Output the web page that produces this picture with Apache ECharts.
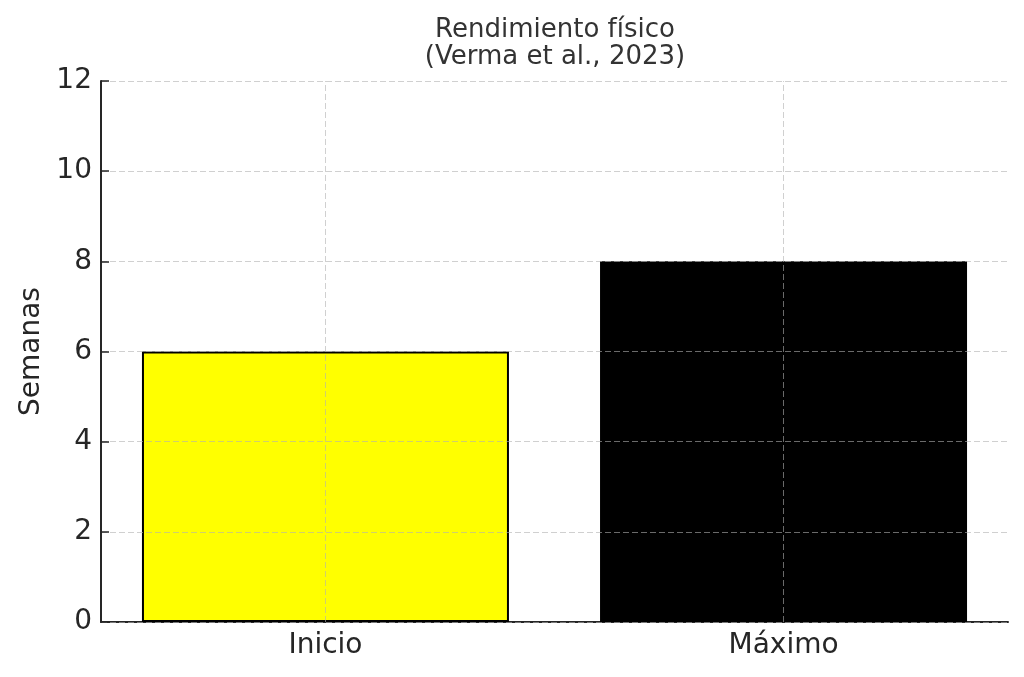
<!DOCTYPE html>
<html>
<head>
<meta charset="utf-8">
<script src="https://cdn.jsdelivr.net/npm/echarts@6/dist/echarts.min.js"></script>
<style>
  html, body { margin: 0; padding: 0; background: #fff; }
  #chart { width: 1024px; height: 677px; }
</style>
</head>
<body>
<div id="chart"></div>
<script>
var categories = ['Inicio', 'Máximo'];
var semanas = [6, 8];
var barColors = ['#ffff00', '#000000'];
var yTicks = { min: 0, max: 12, interval: 2 };
// posiciones de las barras (0, 1) con margen estilo matplotlib
var xRange = { min: -0.49, max: 1.49 };
var xPos = [0, 1];

var chart = echarts.init(document.getElementById('chart'));

var gridDash = {
    color: 'rgba(176,176,176,0.6)',
    width: 1,
    type: [6, 3]
};

chart.setOption({
    animation: false,
    textStyle: { fontFamily: 'DejaVu Sans' },
    title: {
        text: 'Rendimiento físico\n(Verma et al., 2023)',
        left: 550,
        textAlign: 'center',
        top: 12,
        textStyle: {
            fontSize: 26,
            lineHeight: 27,
            fontWeight: 'normal',
            color: '#333'
        }
    },
    grid: {
        left: 101,
        right: 16,
        top: 81,
        bottom: 55,
        outerBoundsMode: 'none'
    },
    xAxis: {
        type: 'value',
        min: xRange.min,
        max: xRange.max,
        axisLine: { show: true, onZero: false, lineStyle: { color: '#262626', width: 2 } },
        axisTick: { show: true, customValues: xPos, inside: true, length: 8, lineStyle: { color: '#262626', width: 1.5 } },
        axisLabel: {
            customValues: xPos,
            fontSize: 28, color: '#262626', margin: 10,
            formatter: function (v) { return categories[Math.round(v)]; }
        },
        splitLine: { show: false }
    },
    yAxis: {
        type: 'value',
        min: yTicks.min,
        max: yTicks.max,
        interval: yTicks.interval,
        z: 5,
        name: 'Semanas',
        nameLocation: 'middle',
        nameGap: 54,
        nameTextStyle: { fontSize: 28, color: '#262626' },
        axisLine: { show: true, onZero: false, lineStyle: { color: '#262626', width: 2 } },
        axisTick: { show: true, inside: true, length: 8, lineStyle: { color: '#262626', width: 1.5 } },
        axisLabel: { fontSize: 28, color: '#262626', margin: 9 },
        splitLine: { show: true, lineStyle: gridDash }
    },
    series: [{
        type: 'bar',
        data: semanas.map(function (v, i) {
            return { value: [xPos[i], v], itemStyle: { color: barColors[i] } };
        }),
        barWidth: 367,
        itemStyle: { borderColor: '#000', borderWidth: 2 },
        markLine: {
            silent: true,
            symbol: 'none',
            label: { show: false },
            lineStyle: gridDash,
            data: xPos.map(function (p) { return { xAxis: p }; })
        }
    }]
});
</script>
</body>
</html>
